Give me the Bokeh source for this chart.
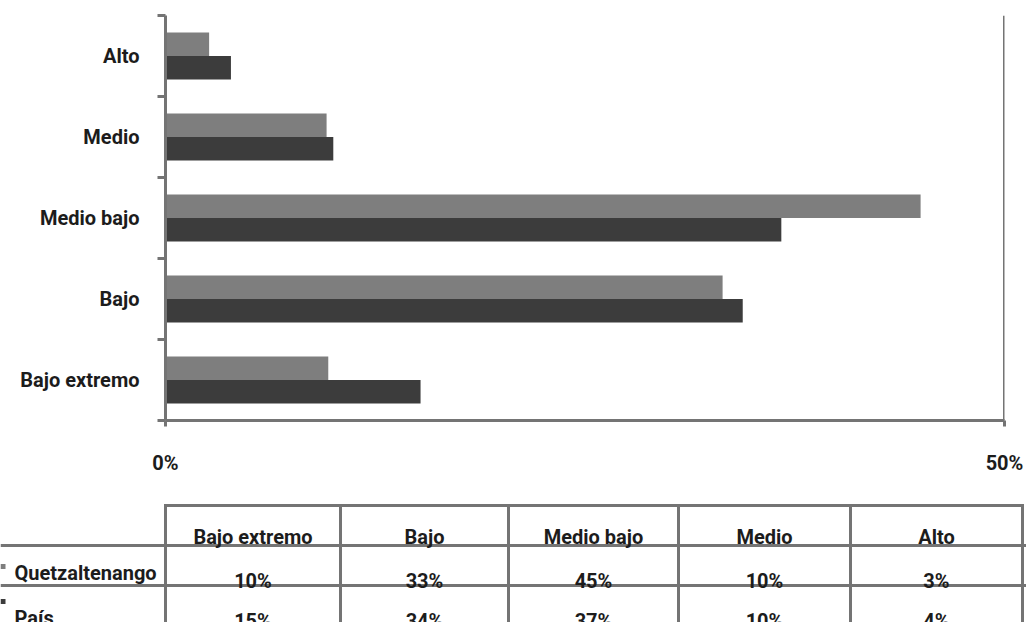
from bokeh.plotting import figure
from bokeh.layouts import column
from bokeh.models import Range1d, FixedTicker, Span, CustomJSTickFormatter, ColumnDataSource
from bokeh.core.properties import value
from bokeh.embed import file_html
from bokeh.resources import INLINE

# ---------------- data ----------------
categories = ["Bajo extremo", "Bajo", "Medio bajo", "Medio", "Alto"]
series_names = ["Quetzaltenango", "País"]
quetz_values = [9.7, 33.2, 45.0, 9.6, 2.6]
pais_values = [15.2, 34.4, 36.7, 10.0, 3.9]
quetz_table = [10, 33, 45, 10, 3]
pais_table = [15, 34, 37, 10, 4]
x_ticks = [0, 50]

# ---------------- style ----------------
FONT = "Roboto"
FS = "20px"
LIGHT = "#7e7e7e"
DARK = "#3c3c3c"
LINE = "#747474"
TEXT = "#1c1c1c"

W = 1026
H1 = 503
H2 = 119

# ---------------- bar chart ----------------
p = figure(width=W, height=H1, output_backend="svg", toolbar_location=None,
           x_range=Range1d(0, 50), y_range=Range1d(0, len(categories)),
           min_border_left=165, min_border_right=22, min_border_top=15,
           min_border_bottom=83)
p.frame_align = False
p.outline_line_color = None
p.xgrid.grid_line_color = None
p.ygrid.grid_line_color = None
p.background_fill_color = "white"
p.border_fill_color = "white"

centers = [i + 0.5 for i in range(len(categories))]
bh = 0.29
src_q = ColumnDataSource(dict(y=[c + bh / 2 for c in centers], right=quetz_values))
src_p = ColumnDataSource(dict(y=[c - bh / 2 for c in centers], right=pais_values))
p.hbar(y="y", left=0, right="right", height=bh, source=src_q,
       fill_color=LIGHT, line_color=None)
p.hbar(y="y", left=0, right="right", height=bh, source=src_p,
       fill_color=DARK, line_color=None)

yax = p.yaxis[0]
yax.ticker = FixedTicker(ticks=centers, minor_ticks=list(range(len(categories) + 1)))
yax.formatter = CustomJSTickFormatter(args=dict(names=categories),
                                      code="return names[Math.floor(tick)];")
yax.major_tick_out = 0
yax.major_tick_in = 0
yax.major_tick_line_color = None
yax.minor_tick_out = 8
yax.minor_tick_in = 0
yax.minor_tick_line_color = LINE
yax.minor_tick_line_width = 3
yax.axis_line_color = LINE
yax.axis_line_width = 3
yax.major_label_standoff = 18
yax.major_label_text_font = FONT
yax.major_label_text_font_size = FS
yax.major_label_text_font_style = "bold"
yax.major_label_text_color = TEXT

xax = p.xaxis[0]
xax.ticker = FixedTicker(ticks=x_ticks)
xax.formatter = CustomJSTickFormatter(code="return tick + '%';")
xax.major_tick_out = 6
xax.major_tick_in = 0
xax.major_tick_line_color = LINE
xax.major_tick_line_width = 3
xax.minor_tick_line_color = None
xax.axis_line_color = LINE
xax.axis_line_width = 3
xax.major_label_standoff = 24
xax.major_label_text_font = FONT
xax.major_label_text_font_size = FS
xax.major_label_text_font_style = "bold"
xax.major_label_text_color = TEXT

p.add_layout(Span(location=50, dimension="height", line_color=LINE, line_width=3))

# ---------------- data table ----------------
t = figure(width=W, height=H2, output_backend="svg", toolbar_location=None,
           x_range=Range1d(0, W), y_range=Range1d(0, H2), min_border=0,
           x_axis_location=None, y_axis_location=None, title=None)
t.frame_align = False
t.outline_line_color = None
t.background_fill_color = "white"
t.border_fill_color = "white"

# layout of the table, measured from the table's top edge (pixels)
edges = [165, 340, 508, 678, 850, 1022]
col_x = [(edges[i] + edges[i + 1]) / 2 for i in range(len(categories))]
top_line = 2
row_lines = [42, 82]
LW = 3


def fy(d):
    # distance from the table top -> y coordinate (y grows upward)
    return H2 - d


# row rules as horizontal grid lines
t.xgrid.grid_line_color = None
t.ygrid.ticker = FixedTicker(ticks=[fy(r) for r in row_lines])
t.ygrid.grid_line_color = LINE
t.ygrid.grid_line_width = LW

# top rule (over the data columns only)
t.quad(left=[edges[0]], right=[edges[-1]],
       top=[fy(top_line - LW / 2)], bottom=[fy(top_line + LW / 2)],
       fill_color=LINE, line_color=None)
# row rules (also as glyphs)
t.quad(left=[1] * len(row_lines), right=[edges[-1]] * len(row_lines),
       top=[fy(r - LW / 2) for r in row_lines], bottom=[fy(r + LW / 2) for r in row_lines],
       fill_color=LINE, line_color=None)
# vertical rules
t.quad(left=[e - LW / 2 for e in edges], right=[e + LW / 2 for e in edges],
       top=[fy(top_line - LW / 2)] * len(edges), bottom=[0] * len(edges),
       fill_color=LINE, line_color=None)

txt = dict(text_font=value(FONT), text_font_size=FS, text_font_style="bold",
           text_color=TEXT, text_baseline="alphabetic")
t.text(x=col_x, y=[fy(33)] * len(categories), text=categories, text_align="center", **txt)
t.text(x=col_x, y=[fy(77)] * len(categories), text=[f"{v}%" for v in quetz_table],
       text_align="center", **txt)
t.text(x=col_x, y=[fy(117)] * len(categories), text=[f"{v}%" for v in pais_table],
       text_align="center", **txt)
t.text(x=[14, 14], y=[fy(69), fy(114)], text=series_names, text_align="left", **txt)
t.scatter(x=[2.5, 2.5], y=[fy(63), fy(98)], marker="square", size=5,
          fill_color=[LIGHT, DARK], line_color=None)

layout = column(p, t, spacing=0)
open("out.html", "w").write(file_html(layout, INLINE))
